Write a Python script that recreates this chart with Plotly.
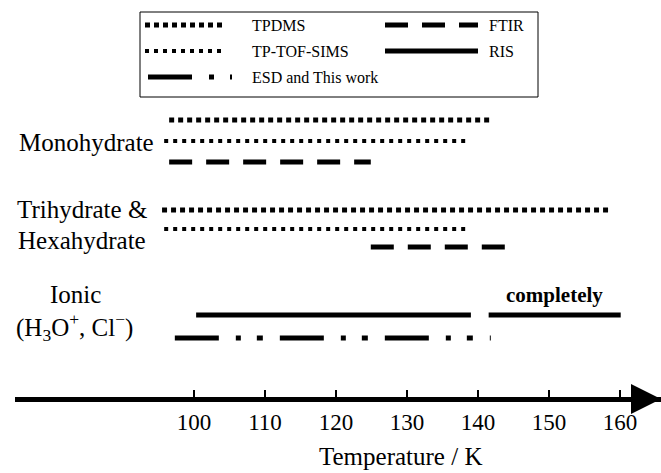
import plotly.graph_objects as go

# ---- data (temperatures in K) ----
group_labels = ["Monohydrate", "Trihydrate &", "Hexahydrate", "Ionic",
                "(H<sub>3</sub>O<sup>+</sup>, Cl<sup>−</sup>)"]
tpdms_start = [96.5, 95.5]      # Monohydrate, Trihydrate & Hexahydrate
tpdms_end = [142.1, 158.5]
tof_start = [95.8, 95.8]
tof_end = [138.6, 138.3]
ftir_start = [96.5, 124.9]
ftir_end = [124.9, 144.5]
ris_start = [100.3, 141.5]      # Ionic, two segments
ris_end = [139.0, 160.1]
esd_start = [97.3]
esd_end = [141.8]
tick_vals = [100, 110, 120, 130, 140, 150, 160]
tick_text = ["100", "110", "120", "130", "140", "150", "160"]
note_text = "completely"
axis_title = "Temperature / K"

W, H = 661, 473
FONT = "Liberation Serif, Times New Roman, serif"

styles = {
    "TPDMS": dict(width=5, dash="5px,4px"),
    "TP-TOF-SIMS": dict(width=4, dash="4px,5px"),
    "FTIR": dict(width=5, dash="23px,14px"),
    "RIS": dict(width=5, dash="solid"),
    "ESD and This work": dict(width=5, dash="44px,17px,5px,16px,6px,17px"),
}

# row positions (y axis in pixel-like units, reversed)
mono_rows = [120, 141, 162]
tri_rows = [210, 229, 247]
ionic_rows = [315, 338]
axis_y = 399

fig = go.Figure()


def seg(x0, x1, y, name):
    st = styles[name]
    fig.add_trace(go.Scatter(
        x=[x0, x1], y=[y, y], mode="lines", showlegend=False,
        line=dict(color="black", width=st["width"], dash=st["dash"]),
        hoverinfo="skip"))


# Monohydrate (index 0), Trihydrate & Hexahydrate (index 1)
for i, rows in enumerate([mono_rows, tri_rows]):
    seg(tpdms_start[i], tpdms_end[i], rows[0], "TPDMS")
    seg(tof_start[i], tof_end[i], rows[1], "TP-TOF-SIMS")
    seg(ftir_start[i], ftir_end[i], rows[2], "FTIR")

# Ionic
for s, e in zip(ris_start, ris_end):
    seg(s, e, ionic_rows[0], "RIS")
for s, e in zip(esd_start, esd_end):
    seg(s, e, ionic_rows[1], "ESD and This work")

# ---- layout ----
px_left = 15
t_per_px = 1 / 7.1
x_at_left = 100 - (194 - px_left) * t_per_px
x_at_right = 100 + (W - 194) * t_per_px


def px(xp):
    return xp / W


def py(yp):
    return 1 - yp / H


fig.update_layout(
    width=W, height=H,
    margin=dict(l=0, r=0, t=0, b=0),
    paper_bgcolor="white", plot_bgcolor="white",
    font=dict(family=FONT, color="black"),
    xaxis=dict(
        domain=[px_left / W, 1], range=[x_at_left, x_at_right],
        anchor="free", position=py(axis_y),
        showline=True, linewidth=5, linecolor="black",
        showgrid=False, zeroline=False,
        ticks="inside", ticklen=7, tickwidth=1.5, tickcolor="black",
        tickvals=tick_vals, ticktext=tick_text,
        tickfont=dict(family=FONT, size=23, color="black"),
    ),
    yaxis=dict(range=[H, 0], visible=False, domain=[0, 1]),
)

# axis title
fig.add_annotation(x=px(400), y=py(456), xref="paper", yref="paper",
                   text=axis_title, showarrow=False, xanchor="center",
                   yanchor="middle",
                   font=dict(family=FONT, size=25, color="black"))

# arrow head on axis
fig.add_annotation(
    x=x_at_right, y=axis_y, ax=x_at_right - 4, ay=axis_y,
    xref="x", yref="y", axref="x", ayref="y",
    showarrow=True, arrowhead=2, arrowsize=1.2, arrowwidth=5,
    arrowcolor="black", text="")

# group labels
lab_font = dict(family=FONT, size=25, color="black")
label_pos = [(86, 142), (82, 210), (82, 240), (75, 294), (74, 327)]
for txt, (xp, yp) in zip(group_labels, label_pos):
    fig.add_annotation(x=px(xp), y=py(yp), xref="paper", yref="paper",
                       text=txt, showarrow=False, xanchor="center",
                       yanchor="middle", font=lab_font)

# "completely" note above second RIS segment
fig.add_annotation(x=(ris_start[1] + ris_end[1]) / 2, y=295, xref="x", yref="y",
                   text="<b>" + note_text + "</b>", showarrow=False,
                   font=dict(family=FONT, size=21, color="black"))

# ---- legend box ----
box = dict(x0=140, x1=538, y0=12, y1=97)
fig.add_shape(type="rect", xref="paper", yref="paper",
              x0=px(box["x0"]), x1=px(box["x1"]),
              y0=py(box["y1"]), y1=py(box["y0"]),
              line=dict(color="black", width=1), fillcolor="white")

legend_items = [
    ("TPDMS", 145, 225, 25, 250),
    ("TP-TOF-SIMS", 145, 225, 51, 250),
    ("ESD and This work", 148, 232, 77, 250),
    ("FTIR", 385, 478, 25, 487),
    ("RIS", 385, 478, 51, 487),
]
for name, x0, x1, yy, tx in legend_items:
    st = styles[name]
    fig.add_shape(type="line", xref="paper", yref="paper",
                  x0=px(x0), x1=px(x1), y0=py(yy), y1=py(yy),
                  line=dict(color="black", width=st["width"], dash=st["dash"]))
    fig.add_annotation(x=px(tx), y=py(yy), xref="paper", yref="paper",
                       text=name, showarrow=False, xanchor="left",
                       yanchor="middle",
                       font=dict(family=FONT, size=16, color="black"))

fig.write_html("out.html",
               config={"displayModeBar": False},
               post_script="document.body.style.margin='0';")
